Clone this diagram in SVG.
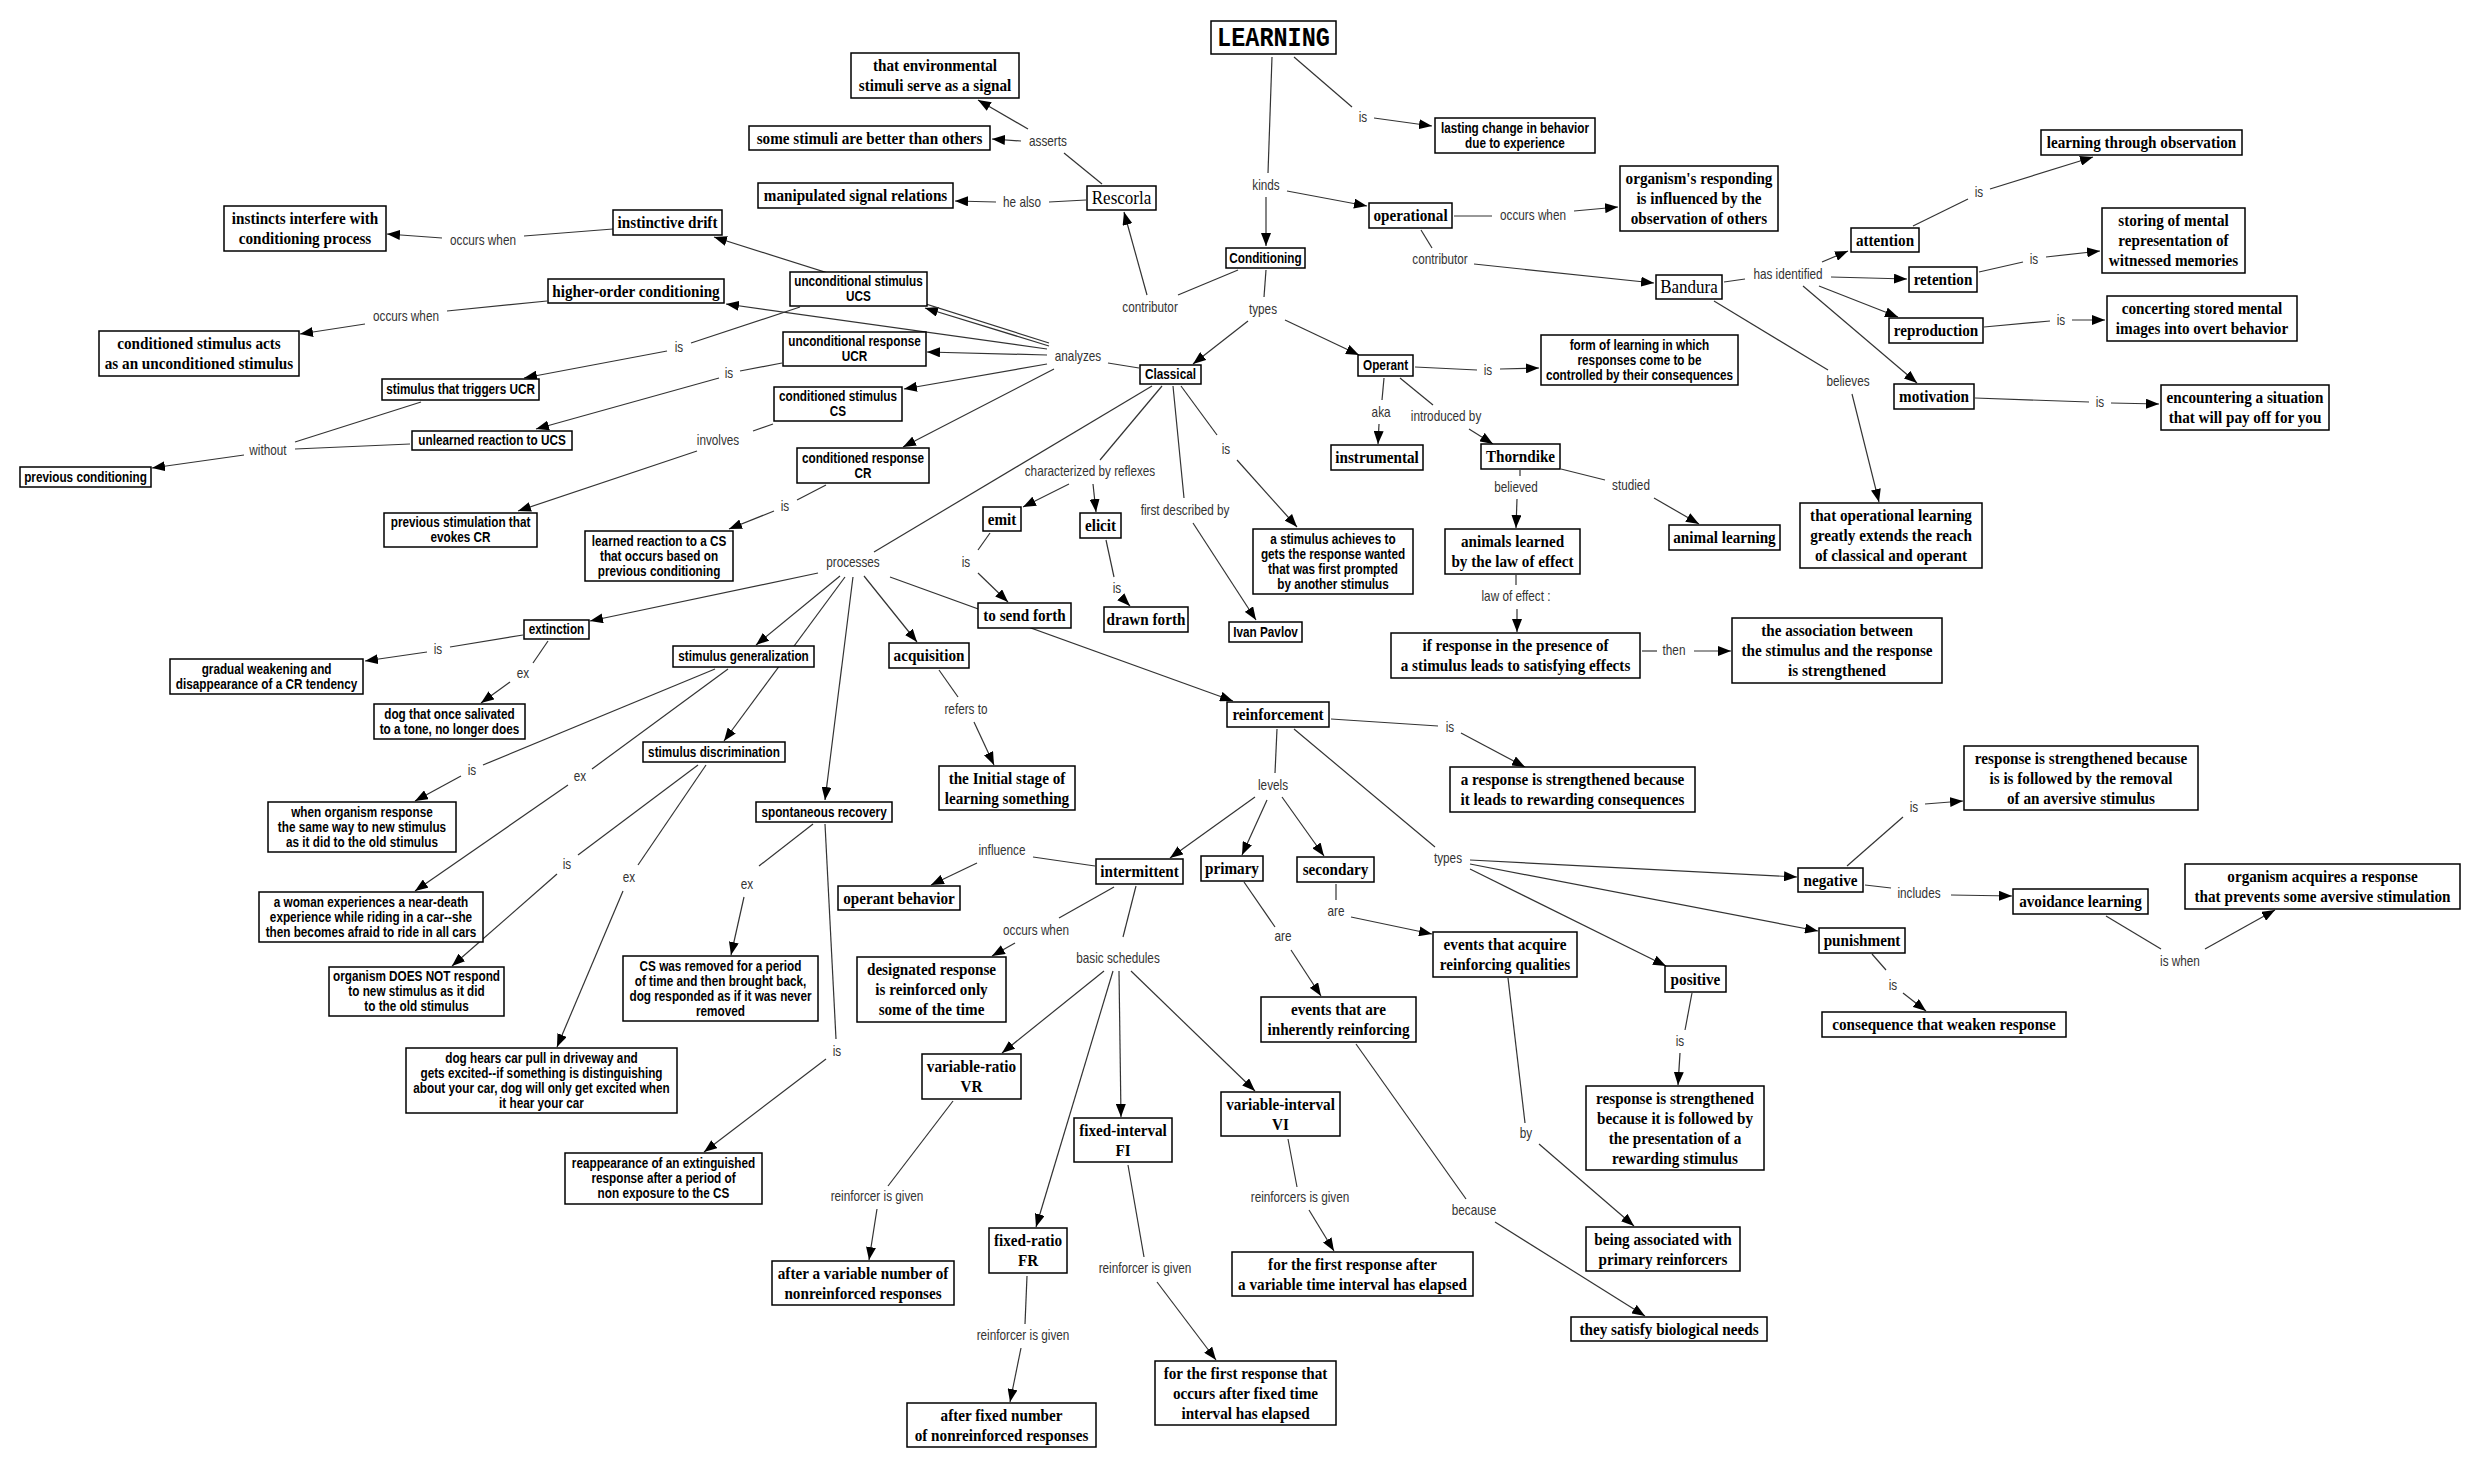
<svg xmlns="http://www.w3.org/2000/svg" width="2479" height="1467" viewBox="0 0 2479 1467">
<style>
.bg{fill:#fff}
.n rect{fill:#fff;stroke:#000;stroke-width:1.5}
.n text{text-anchor:middle;fill:#000;transform-box:fill-box;transform-origin:center}
.s{font-family:"Liberation Sans",Arial,sans-serif;font-weight:bold;font-size:14px;transform:scaleX(0.84)}
.f{font-family:"Liberation Serif","Times New Roman",serif;font-weight:bold;font-size:16.5px;transform:scaleX(0.92)}
.fr{font-family:"Liberation Serif","Times New Roman",serif;font-weight:normal;font-size:18.5px;transform:scaleX(0.92)}
.m{font-family:"Liberation Mono","Courier New",monospace;font-weight:bold;font-size:27px;transform:scaleX(0.87)}
.c line{stroke:#333;stroke-width:1.2;fill:none}
.c line.a{marker-end:url(#ah)}
.c text{font-family:"Liberation Sans",Arial,sans-serif;font-size:14px;fill:#333;text-anchor:middle;transform-box:fill-box;transform-origin:center;transform:scaleX(0.84)}
</style>
<defs>
<marker id="ah" markerUnits="userSpaceOnUse" markerWidth="13" markerHeight="10" refX="13" refY="5" orient="auto"><path d="M0,0 L13,5 L0,10 Z" fill="#000"/></marker>
</defs>
<rect class="bg" x="0" y="0" width="2479" height="1467"/>
<g id="connectors" class="c">
<line x1="1294" y1="57" x2="1352" y2="107"/><text x="1363" y="122">is</text><line class="a" x1="1374" y1="118" x2="1432" y2="126"/>
<line x1="1272" y1="57" x2="1268" y2="173"/><text x="1266" y="190">kinds</text><line class="a" x1="1266" y1="197" x2="1266" y2="246"/><line class="a" x1="1287" y1="191" x2="1367" y2="206"/>
<line x1="1454" y1="216" x2="1492" y2="216"/><text x="1533" y="220">occurs when</text><line class="a" x1="1574" y1="211" x2="1618" y2="207"/>
<line x1="1421" y1="230" x2="1432" y2="248"/><text x="1440" y="264">contributor</text><line class="a" x1="1474" y1="264" x2="1654" y2="283"/>
<line x1="1724" y1="282" x2="1745" y2="279"/><text x="1788" y="279">has identified</text><line class="a" x1="1822" y1="262" x2="1848" y2="251"/><line class="a" x1="1831" y1="277" x2="1907" y2="279"/><line class="a" x1="1819" y1="286" x2="1898" y2="317"/><line class="a" x1="1803" y1="286" x2="1917" y2="383"/>
<line x1="1714" y1="301" x2="1828" y2="370"/><text x="1848" y="386">believes</text><line class="a" x1="1852" y1="394" x2="1879" y2="502"/>
<line x1="1913" y1="226" x2="1968" y2="199"/><text x="1979" y="197">is</text><line class="a" x1="1990" y1="189" x2="2093" y2="157"/>
<line x1="1979" y1="272" x2="2023" y2="262"/><text x="2034" y="264">is</text><line class="a" x1="2046" y1="257" x2="2100" y2="251"/>
<line x1="1984" y1="327" x2="2050" y2="321"/><text x="2061" y="325">is</text><line class="a" x1="2072" y1="320" x2="2105" y2="320"/>
<line x1="1975" y1="398" x2="2089" y2="402"/><text x="2100" y="407">is</text><line class="a" x1="2111" y1="403" x2="2159" y2="404"/>
<line x1="1266" y1="270" x2="1264" y2="297"/><text x="1263" y="314">types</text><line class="a" x1="1248" y1="321" x2="1193" y2="364"/><line class="a" x1="1285" y1="320" x2="1359" y2="355"/>
<line x1="1238" y1="270" x2="1178" y2="295"/><text x="1150" y="312">contributor</text><line class="a" x1="1147" y1="295" x2="1124" y2="212"/>
<line x1="1102" y1="184" x2="1064" y2="153"/><text x="1048" y="146">asserts</text><line class="a" x1="1021" y1="141" x2="992" y2="139"/><line class="a" x1="1028" y1="129" x2="978" y2="100"/>
<line x1="1086" y1="200" x2="1049" y2="202"/><text x="1022" y="207">he also</text><line class="a" x1="996" y1="202" x2="955" y2="201"/>
<line x1="1415" y1="367" x2="1477" y2="370"/><text x="1488" y="375">is</text><line class="a" x1="1500" y1="369" x2="1539" y2="368"/>
<line x1="1384" y1="378" x2="1382" y2="400"/><text x="1381" y="417">aka</text><line class="a" x1="1379" y1="424" x2="1378" y2="444"/>
<line x1="1400" y1="378" x2="1433" y2="405"/><text x="1446" y="421">introduced by</text><line class="a" x1="1469" y1="429" x2="1493" y2="444"/>
<line x1="1561" y1="469" x2="1605" y2="480"/><text x="1631" y="490">studied</text><line class="a" x1="1654" y1="498" x2="1699" y2="524"/>
<line x1="1520" y1="470" x2="1520" y2="476"/><text x="1516" y="492">believed</text><line class="a" x1="1517" y1="499" x2="1516" y2="528"/>
<line x1="1516" y1="575" x2="1516" y2="585"/><text x="1516" y="601">law of effect :</text><line class="a" x1="1517" y1="609" x2="1517" y2="632"/>
<line x1="1642" y1="651" x2="1657" y2="651"/><text x="1674" y="655">then</text><line class="a" x1="1694" y1="651" x2="1731" y2="651"/>
<line x1="1139" y1="368" x2="1108" y2="363"/><text x="1078" y="361">analyzes</text>
<line class="a" x1="1049" y1="346" x2="925" y2="308"/><line class="a" x1="1049" y1="343" x2="714" y2="237"/><line class="a" x1="1047" y1="349" x2="726" y2="304"/><line class="a" x1="1047" y1="355" x2="927" y2="352"/><line class="a" x1="1047" y1="364" x2="904" y2="389"/><line class="a" x1="1054" y1="369" x2="903" y2="447"/>
<line x1="800" y1="307" x2="691" y2="343"/><text x="679" y="352">is</text><line class="a" x1="667" y1="351" x2="524" y2="378"/>
<line x1="782" y1="363" x2="740" y2="371"/><text x="729" y="378">is</text><line class="a" x1="719" y1="378" x2="536" y2="429"/>
<line x1="773" y1="424" x2="753" y2="431"/><text x="718" y="445">involves</text><line class="a" x1="697" y1="451" x2="518" y2="511"/>
<line x1="826" y1="485" x2="797" y2="500"/><text x="785" y="511">is</text><line class="a" x1="774" y1="511" x2="729" y2="529"/>
<line x1="1162" y1="386" x2="1100" y2="460"/><text x="1090" y="476">characterized by reflexes</text><line class="a" x1="1069" y1="484" x2="1023" y2="507"/><line class="a" x1="1093" y1="484" x2="1096" y2="512"/>
<line x1="1173" y1="386" x2="1184" y2="498"/><text x="1185" y="515">first described by</text><line class="a" x1="1193" y1="523" x2="1256" y2="620"/>
<line x1="1181" y1="386" x2="1217" y2="435"/><text x="1226" y="454">is</text><line class="a" x1="1237" y1="460" x2="1297" y2="527"/>
<line x1="1152" y1="386" x2="874" y2="552"/><text x="853" y="567">processes</text>
<line class="a" x1="818" y1="573" x2="590" y2="621"/><line class="a" x1="840" y1="576" x2="756" y2="645"/><line class="a" x1="845" y1="577" x2="724" y2="741"/><line class="a" x1="853" y1="577" x2="825" y2="800"/><line class="a" x1="864" y1="576" x2="917" y2="642"/><line class="a" x1="890" y1="577" x2="1233" y2="701"/>
<line x1="523" y1="635" x2="450" y2="647"/><text x="438" y="654">is</text><line class="a" x1="427" y1="652" x2="365" y2="661"/>
<line x1="548" y1="641" x2="533" y2="663"/><text x="523" y="678">ex</text><line class="a" x1="510" y1="682" x2="481" y2="703"/>
<line x1="715" y1="669" x2="483" y2="765"/><text x="472" y="775">is</text><line class="a" x1="461" y1="776" x2="415" y2="801"/>
<line x1="728" y1="669" x2="592" y2="769"/><text x="580" y="781">ex</text><line class="a" x1="568" y1="785" x2="415" y2="891"/>
<line x1="698" y1="765" x2="578" y2="855"/><text x="567" y="869">is</text><line class="a" x1="557" y1="874" x2="452" y2="966"/>
<line x1="706" y1="765" x2="638" y2="865"/><text x="629" y="882">ex</text><line class="a" x1="623" y1="891" x2="557" y2="1047"/>
<line x1="813" y1="824" x2="759" y2="866"/><text x="747" y="889">ex</text><line class="a" x1="744" y1="897" x2="731" y2="955"/>
<line x1="825" y1="824" x2="836" y2="1039"/><text x="837" y="1056">is</text><line class="a" x1="826" y1="1059" x2="704" y2="1152"/>
<line x1="939" y1="670" x2="958" y2="697"/><text x="966" y="714">refers to</text><line class="a" x1="974" y1="722" x2="994" y2="765"/>
<line x1="990" y1="533" x2="978" y2="550"/><text x="966" y="567">is</text><line class="a" x1="978" y1="573" x2="1008" y2="602"/>
<line x1="1106" y1="540" x2="1114" y2="577"/><text x="1117" y="593">is</text><line class="a" x1="1121" y1="597" x2="1130" y2="606"/>
<line x1="1331" y1="719" x2="1438" y2="726"/><text x="1450" y="732">is</text><line class="a" x1="1461" y1="733" x2="1525" y2="767"/>
<line x1="1277" y1="729" x2="1275" y2="773"/><text x="1273" y="790">levels</text><line class="a" x1="1255" y1="797" x2="1170" y2="858"/><line class="a" x1="1267" y1="800" x2="1242" y2="855"/><line class="a" x1="1282" y1="797" x2="1324" y2="856"/>
<line x1="1294" y1="729" x2="1435" y2="847"/><text x="1448" y="863">types</text><line class="a" x1="1470" y1="860" x2="1797" y2="877"/><line class="a" x1="1470" y1="864" x2="1818" y2="931"/><line class="a" x1="1470" y1="869" x2="1666" y2="966"/>
<line x1="1847" y1="866" x2="1903" y2="817"/><text x="1914" y="812">is</text><line class="a" x1="1925" y1="804" x2="1963" y2="801"/>
<line x1="1865" y1="885" x2="1891" y2="888"/><text x="1919" y="898">includes</text><line class="a" x1="1951" y1="895" x2="2012" y2="896"/>
<line x1="2106" y1="916" x2="2161" y2="949"/><text x="2180" y="966">is when</text><line class="a" x1="2205" y1="949" x2="2275" y2="910"/>
<line x1="1872" y1="954" x2="1886" y2="970"/><text x="1893" y="990">is</text><line class="a" x1="1903" y1="993" x2="1926" y2="1011"/>
<line x1="1692" y1="993" x2="1685" y2="1030"/><text x="1680" y="1046">is</text><line class="a" x1="1680" y1="1053" x2="1678" y2="1085"/>
<line x1="1336" y1="884" x2="1336" y2="900"/><text x="1336" y="916">are</text><line class="a" x1="1351" y1="917" x2="1432" y2="934"/>
<line x1="1244" y1="882" x2="1275" y2="927"/><text x="1283" y="941">are</text><line class="a" x1="1291" y1="950" x2="1321" y2="996"/>
<line x1="1508" y1="978" x2="1525" y2="1123"/><text x="1526" y="1138">by</text><line class="a" x1="1539" y1="1144" x2="1634" y2="1226"/>
<line x1="1356" y1="1044" x2="1466" y2="1199"/><text x="1474" y="1215">because</text><line class="a" x1="1495" y1="1222" x2="1645" y2="1316"/>
<line x1="1095" y1="866" x2="1033" y2="857"/><text x="1002" y="855">influence</text><line class="a" x1="977" y1="863" x2="931" y2="885"/>
<line x1="1114" y1="887" x2="1059" y2="918"/><text x="1036" y="935">occurs when</text><line class="a" x1="1015" y1="943" x2="992" y2="956"/>
<line x1="1136" y1="886" x2="1123" y2="937"/><text x="1118" y="963">basic schedules</text><line class="a" x1="1104" y1="971" x2="1002" y2="1053"/><line class="a" x1="1113" y1="971" x2="1036" y2="1227"/><line class="a" x1="1119" y1="971" x2="1121" y2="1117"/><line class="a" x1="1131" y1="971" x2="1255" y2="1091"/>
<line x1="953" y1="1101" x2="888" y2="1186"/><text x="877" y="1201">reinforcer is given</text><line class="a" x1="877" y1="1209" x2="869" y2="1260"/>
<line x1="1027" y1="1276" x2="1025" y2="1324"/><text x="1023" y="1340">reinforcer is given</text><line class="a" x1="1021" y1="1348" x2="1010" y2="1402"/>
<line x1="1128" y1="1165" x2="1144" y2="1257"/><text x="1145" y="1273">reinforcer is given</text><line class="a" x1="1157" y1="1282" x2="1216" y2="1360"/>
<line x1="1288" y1="1139" x2="1297" y2="1187"/><text x="1300" y="1202">reinforcers is given</text><line class="a" x1="1309" y1="1210" x2="1334" y2="1251"/>
<line x1="547" y1="301" x2="447" y2="311"/><text x="406" y="321">occurs when</text><line class="a" x1="365" y1="324" x2="300" y2="334"/>
<line x1="613" y1="229" x2="524" y2="236"/><text x="483" y="245">occurs when</text><line class="a" x1="442" y1="238" x2="387" y2="234"/>
<line x1="421" y1="402" x2="295" y2="442"/><line x1="410" y1="444" x2="295" y2="449"/><text x="268" y="455">without</text><line class="a" x1="244" y1="455" x2="152" y2="468"/>
</g>
<g id="n-learning" class="n"><rect x="1211" y="21" width="125" height="33"/><text class="m" x="1273.5" y="46">LEARNING</text></g>
<g id="n-lasting" class="n"><rect x="1435" y="118" width="160" height="35"/><text class="s"><tspan x="1515" y="133">lasting change in behavior</tspan><tspan x="1515" y="148">due to experience</tspan></text></g>
<g id="n-conditioning" class="n"><rect x="1226" y="248" width="79" height="20"/><text class="s" x="1265.5" y="263">Conditioning</text></g>
<g id="n-operational" class="n"><rect x="1369" y="203" width="83" height="25"/><text class="f" x="1410.5" y="221.5">operational</text></g>
<g id="n-organism-responding" class="n"><rect x="1620" y="166" width="158" height="65"/><text class="f"><tspan x="1699" y="184.5">organism's responding</tspan><tspan x="1699" y="204.5">is influenced by the</tspan><tspan x="1699" y="224.5">observation of others</tspan></text></g>
<g id="n-bandura" class="n"><rect x="1656" y="275" width="66" height="24"/><text class="fr" x="1689" y="293.5">Bandura</text></g>
<g id="n-attention" class="n"><rect x="1851" y="228" width="68" height="24"/><text class="f" x="1885" y="246">attention</text></g>
<g id="n-learning-observation" class="n"><rect x="2041" y="130" width="201" height="25"/><text class="f" x="2141.5" y="148.5">learning through observation</text></g>
<g id="n-retention" class="n"><rect x="1909" y="267" width="68" height="25"/><text class="f" x="1943" y="285.5">retention</text></g>
<g id="n-storing" class="n"><rect x="2102" y="208" width="143" height="65"/><text class="f"><tspan x="2173.5" y="226.5">storing of mental</tspan><tspan x="2173.5" y="246.5">representation of</tspan><tspan x="2173.5" y="266.5">witnessed memories</tspan></text></g>
<g id="n-reproduction" class="n"><rect x="1889" y="318" width="94" height="25"/><text class="f" x="1936" y="336.5">reproduction</text></g>
<g id="n-concerting" class="n"><rect x="2107" y="296" width="190" height="45"/><text class="f"><tspan x="2202" y="314.5">concerting stored mental</tspan><tspan x="2202" y="334.5">images into overt behavior</tspan></text></g>
<g id="n-motivation" class="n"><rect x="1894" y="384" width="80" height="25"/><text class="f" x="1934" y="402.5">motivation</text></g>
<g id="n-encountering" class="n"><rect x="2161" y="385" width="168" height="45"/><text class="f"><tspan x="2245" y="403.5">encountering a situation</tspan><tspan x="2245" y="423.5">that will pay off for you</tspan></text></g>
<g id="n-operational-learning" class="n"><rect x="1800" y="503" width="182" height="65"/><text class="f"><tspan x="1891" y="521.5">that operational learning</tspan><tspan x="1891" y="541.5">greatly extends the reach</tspan><tspan x="1891" y="561.5">of classical and operant</tspan></text></g>
<g id="n-rescorla" class="n"><rect x="1087" y="186" width="69" height="24"/><text class="fr" x="1121.5" y="204.5">Rescorla</text></g>
<g id="n-environmental" class="n"><rect x="851" y="53" width="168" height="45"/><text class="f"><tspan x="935" y="71.5">that environmental</tspan><tspan x="935" y="91.5">stimuli serve as a signal</tspan></text></g>
<g id="n-some-stimuli" class="n"><rect x="749" y="126" width="241" height="24"/><text class="f" x="869.5" y="144">some stimuli are better than others</text></g>
<g id="n-manipulated" class="n"><rect x="758" y="183" width="195" height="25"/><text class="f" x="855.5" y="201.5">manipulated signal relations</text></g>
<g id="n-instinctive-drift" class="n"><rect x="613" y="210" width="109" height="25"/><text class="f" x="667.5" y="228.5">instinctive drift</text></g>
<g id="n-instincts" class="n"><rect x="224" y="206" width="162" height="45"/><text class="f"><tspan x="305" y="224.5">instincts interfere with</tspan><tspan x="305" y="244.5">conditioning process</tspan></text></g>
<g id="n-higher-order" class="n"><rect x="548" y="279" width="176" height="24"/><text class="f" x="636" y="297">higher-order conditioning</text></g>
<g id="n-cs-acts" class="n"><rect x="99" y="331" width="200" height="45"/><text class="f"><tspan x="199" y="349.5">conditioned stimulus acts</tspan><tspan x="199" y="369.5">as an unconditioned stimulus</tspan></text></g>
<g id="n-ucs" class="n"><rect x="790" y="272" width="137" height="34"/><text class="s"><tspan x="858.5" y="286.5">unconditional stimulus</tspan><tspan x="858.5" y="301.5">UCS</tspan></text></g>
<g id="n-ucr" class="n"><rect x="783" y="332" width="143" height="34"/><text class="s"><tspan x="854.5" y="346.5">unconditional response</tspan><tspan x="854.5" y="361.5">UCR</tspan></text></g>
<g id="n-cs" class="n"><rect x="774" y="387" width="128" height="34"/><text class="s"><tspan x="838" y="401.5">conditioned stimulus</tspan><tspan x="838" y="416.5">CS</tspan></text></g>
<g id="n-cr" class="n"><rect x="797" y="448" width="132" height="35"/><text class="s"><tspan x="863" y="463">conditioned response</tspan><tspan x="863" y="478">CR</tspan></text></g>
<g id="n-triggers-ucr" class="n"><rect x="382" y="379" width="157" height="21"/><text class="s" x="460.5" y="394.5">stimulus that triggers UCR</text></g>
<g id="n-unlearned" class="n"><rect x="412" y="431" width="160" height="19"/><text class="s" x="492" y="445.5">unlearned reaction to UCS</text></g>
<g id="n-previous-conditioning" class="n"><rect x="20" y="467" width="131" height="20"/><text class="s" x="85.5" y="482">previous conditioning</text></g>
<g id="n-previous-stimulation" class="n"><rect x="384" y="513" width="153" height="34"/><text class="s"><tspan x="460.5" y="527.5">previous stimulation that</tspan><tspan x="460.5" y="542.5">evokes CR</tspan></text></g>
<g id="n-learned-reaction" class="n"><rect x="585" y="531" width="148" height="50"/><text class="s"><tspan x="659" y="546">learned reaction to a CS</tspan><tspan x="659" y="561">that occurs based on</tspan><tspan x="659" y="576">previous conditioning</tspan></text></g>
<g id="n-classical" class="n"><rect x="1140" y="365" width="61" height="19"/><text class="s" x="1170.5" y="379.5">Classical</text></g>
<g id="n-operant" class="n"><rect x="1358" y="355" width="55" height="21"/><text class="s" x="1385.5" y="370.5">Operant</text></g>
<g id="n-form-learning" class="n"><rect x="1541" y="335" width="197" height="50"/><text class="s"><tspan x="1639.5" y="350">form of learning in which</tspan><tspan x="1639.5" y="365">responses come to be</tspan><tspan x="1639.5" y="380">controlled by their consequences</tspan></text></g>
<g id="n-instrumental" class="n"><rect x="1331" y="445" width="92" height="25"/><text class="f" x="1377" y="463.5">instrumental</text></g>
<g id="n-thorndike" class="n"><rect x="1481" y="444" width="79" height="25"/><text class="f" x="1520.5" y="462.5">Thorndike</text></g>
<g id="n-animal-learning" class="n"><rect x="1669" y="525" width="111" height="25"/><text class="f" x="1724.5" y="543.5">animal learning</text></g>
<g id="n-animals-learned" class="n"><rect x="1445" y="529" width="135" height="45"/><text class="f"><tspan x="1512.5" y="547.5">animals learned</tspan><tspan x="1512.5" y="567.5">by the law of effect</tspan></text></g>
<g id="n-if-response" class="n"><rect x="1391" y="633" width="249" height="45"/><text class="f"><tspan x="1515.5" y="651.5">if response in the presence of</tspan><tspan x="1515.5" y="671.5">a stimulus leads to satisfying effects</tspan></text></g>
<g id="n-association" class="n"><rect x="1732" y="618" width="210" height="65"/><text class="f"><tspan x="1837" y="636.5">the association between</tspan><tspan x="1837" y="656.5">the stimulus and the response</tspan><tspan x="1837" y="676.5">is strengthened</tspan></text></g>
<g id="n-stimulus-achieves" class="n"><rect x="1253" y="529" width="160" height="65"/><text class="s"><tspan x="1333" y="544">a stimulus achieves to</tspan><tspan x="1333" y="559">gets the response wanted</tspan><tspan x="1333" y="574">that was first prompted</tspan><tspan x="1333" y="589">by another stimulus</tspan></text></g>
<g id="n-pavlov" class="n"><rect x="1229" y="622" width="73" height="20"/><text class="s" x="1265.5" y="637">Ivan Pavlov</text></g>
<g id="n-emit" class="n"><rect x="983" y="507" width="38" height="24"/><text class="f" x="1002" y="525">emit</text></g>
<g id="n-elicit" class="n"><rect x="1080" y="513" width="41" height="25"/><text class="f" x="1100.5" y="531.5">elicit</text></g>
<g id="n-send-forth" class="n"><rect x="978" y="603" width="93" height="25"/><text class="f" x="1024.5" y="621.5">to send forth</text></g>
<g id="n-drawn-forth" class="n"><rect x="1104" y="607" width="84" height="25"/><text class="f" x="1146" y="625.5">drawn forth</text></g>
<g id="n-extinction" class="n"><rect x="524" y="620" width="65" height="19"/><text class="s" x="556.5" y="634.5">extinction</text></g>
<g id="n-gradual" class="n"><rect x="170" y="659" width="193" height="35"/><text class="s"><tspan x="266.5" y="674">gradual weakening and</tspan><tspan x="266.5" y="689">disappearance of a CR tendency</tspan></text></g>
<g id="n-dog-salivated" class="n"><rect x="374" y="704" width="151" height="35"/><text class="s"><tspan x="449.5" y="719">dog that once salivated</tspan><tspan x="449.5" y="734">to a tone, no longer does</tspan></text></g>
<g id="n-stim-gen" class="n"><rect x="673" y="646" width="141" height="21"/><text class="s" x="743.5" y="661.5">stimulus generalization</text></g>
<g id="n-when-organism" class="n"><rect x="268" y="802" width="188" height="50"/><text class="s"><tspan x="362" y="817">when organism response</tspan><tspan x="362" y="832">the same way to new stimulus</tspan><tspan x="362" y="847">as it did to the old stimulus</tspan></text></g>
<g id="n-woman" class="n"><rect x="259" y="892" width="224" height="50"/><text class="s"><tspan x="371" y="907">a woman experiences a near-death</tspan><tspan x="371" y="922">experience while riding in a car--she</tspan><tspan x="371" y="937">then becomes afraid to ride in all cars</tspan></text></g>
<g id="n-stim-disc" class="n"><rect x="643" y="742" width="142" height="20"/><text class="s" x="714" y="757">stimulus discrimination</text></g>
<g id="n-does-not" class="n"><rect x="329" y="967" width="175" height="49"/><text class="s"><tspan x="416.5" y="981.5">organism DOES NOT respond</tspan><tspan x="416.5" y="996.5">to new stimulus as it did</tspan><tspan x="416.5" y="1011.5">to the old stimulus</tspan></text></g>
<g id="n-dog-hears" class="n"><rect x="406" y="1048" width="271" height="65"/><text class="s"><tspan x="541.5" y="1063">dog hears car pull in driveway and</tspan><tspan x="541.5" y="1078">gets excited--if something is distinguishing</tspan><tspan x="541.5" y="1093">about your car, dog will only get excited when</tspan><tspan x="541.5" y="1108">it hear your car</tspan></text></g>
<g id="n-spont" class="n"><rect x="756" y="802" width="136" height="20"/><text class="s" x="824" y="817">spontaneous recovery</text></g>
<g id="n-cs-removed" class="n"><rect x="623" y="956" width="195" height="65"/><text class="s"><tspan x="720.5" y="971">CS was removed for a period</tspan><tspan x="720.5" y="986">of time and then brought back,</tspan><tspan x="720.5" y="1001">dog responded as if it was never</tspan><tspan x="720.5" y="1016">removed</tspan></text></g>
<g id="n-reappearance" class="n"><rect x="565" y="1153" width="197" height="51"/><text class="s"><tspan x="663.5" y="1168.5">reappearance of an extinguished</tspan><tspan x="663.5" y="1183.5">response after a period of</tspan><tspan x="663.5" y="1198.5">non exposure to the CS</tspan></text></g>
<g id="n-acquisition" class="n"><rect x="889" y="643" width="80" height="25"/><text class="f" x="929" y="661.5">acquisition</text></g>
<g id="n-initial" class="n"><rect x="939" y="766" width="136" height="44"/><text class="f"><tspan x="1007" y="784">the Initial stage of</tspan><tspan x="1007" y="804">learning something</tspan></text></g>
<g id="n-reinforcement" class="n"><rect x="1227" y="702" width="102" height="25"/><text class="f" x="1278" y="720.5">reinforcement</text></g>
<g id="n-rewarding" class="n"><rect x="1450" y="767" width="245" height="45"/><text class="f"><tspan x="1572.5" y="785.5">a response is strengthened because</tspan><tspan x="1572.5" y="805.5">it leads to rewarding consequences</tspan></text></g>
<g id="n-intermittent" class="n"><rect x="1096" y="859" width="87" height="25"/><text class="f" x="1139.5" y="877.5">intermittent</text></g>
<g id="n-primary" class="n"><rect x="1201" y="856" width="62" height="25"/><text class="f" x="1232" y="874.5">primary</text></g>
<g id="n-secondary" class="n"><rect x="1297" y="857" width="77" height="25"/><text class="f" x="1335.5" y="875.5">secondary</text></g>
<g id="n-operant-behavior" class="n"><rect x="838" y="886" width="122" height="24"/><text class="f" x="899" y="904">operant behavior</text></g>
<g id="n-designated" class="n"><rect x="857" y="957" width="149" height="65"/><text class="f"><tspan x="931.5" y="975.5">designated response</tspan><tspan x="931.5" y="995.5">is reinforced only</tspan><tspan x="931.5" y="1015.5">some of the time</tspan></text></g>
<g id="n-events-acquire" class="n"><rect x="1433" y="932" width="144" height="45"/><text class="f"><tspan x="1505" y="950.5">events that acquire</tspan><tspan x="1505" y="970.5">reinforcing qualities</tspan></text></g>
<g id="n-inherently" class="n"><rect x="1261" y="997" width="155" height="45"/><text class="f"><tspan x="1338.5" y="1015.5">events that are</tspan><tspan x="1338.5" y="1035.5">inherently reinforcing</tspan></text></g>
<g id="n-being-associated" class="n"><rect x="1586" y="1227" width="154" height="44"/><text class="f"><tspan x="1663" y="1245">being associated with</tspan><tspan x="1663" y="1265">primary reinforcers</tspan></text></g>
<g id="n-biological" class="n"><rect x="1571" y="1317" width="196" height="24"/><text class="f" x="1669" y="1335">they satisfy biological needs</text></g>
<g id="n-vr" class="n"><rect x="922" y="1054" width="99" height="45"/><text class="f"><tspan x="971.5" y="1072.5">variable-ratio</tspan><tspan x="971.5" y="1092.5">VR</tspan></text></g>
<g id="n-fi" class="n"><rect x="1074" y="1118" width="98" height="44"/><text class="f"><tspan x="1123" y="1136">fixed-interval</tspan><tspan x="1123" y="1156">FI</tspan></text></g>
<g id="n-fr" class="n"><rect x="989" y="1228" width="78" height="45"/><text class="f"><tspan x="1028" y="1246.5">fixed-ratio</tspan><tspan x="1028" y="1266.5">FR</tspan></text></g>
<g id="n-vi" class="n"><rect x="1221" y="1092" width="119" height="44"/><text class="f"><tspan x="1280.5" y="1110">variable-interval</tspan><tspan x="1280.5" y="1130">VI</tspan></text></g>
<g id="n-after-variable" class="n"><rect x="772" y="1261" width="182" height="44"/><text class="f"><tspan x="863" y="1279">after a variable number of</tspan><tspan x="863" y="1299">nonreinforced responses</tspan></text></g>
<g id="n-after-fixed" class="n"><rect x="907" y="1403" width="189" height="44"/><text class="f"><tspan x="1001.5" y="1421">after fixed number</tspan><tspan x="1001.5" y="1441">of nonreinforced responses</tspan></text></g>
<g id="n-first-fixed" class="n"><rect x="1155" y="1361" width="181" height="64"/><text class="f"><tspan x="1245.5" y="1379">for the first response that</tspan><tspan x="1245.5" y="1399">occurs after fixed time</tspan><tspan x="1245.5" y="1419">interval has elapsed</tspan></text></g>
<g id="n-first-variable" class="n"><rect x="1232" y="1252" width="241" height="44"/><text class="f"><tspan x="1352.5" y="1270">for the first response after</tspan><tspan x="1352.5" y="1290">a variable time interval has elapsed</tspan></text></g>
<g id="n-negative" class="n"><rect x="1798" y="868" width="65" height="24"/><text class="f" x="1830.5" y="886">negative</text></g>
<g id="n-removal" class="n"><rect x="1964" y="746" width="234" height="64"/><text class="f"><tspan x="2081" y="764">response is strengthened because</tspan><tspan x="2081" y="784">is is followed by the removal</tspan><tspan x="2081" y="804">of an aversive stimulus</tspan></text></g>
<g id="n-avoidance" class="n"><rect x="2013" y="889" width="135" height="25"/><text class="f" x="2080.5" y="907.5">avoidance learning</text></g>
<g id="n-acquires" class="n"><rect x="2185" y="864" width="275" height="45"/><text class="f"><tspan x="2322.5" y="882.5">organism acquires a response</tspan><tspan x="2322.5" y="902.5">that prevents some aversive stimulation</tspan></text></g>
<g id="n-punishment" class="n"><rect x="1819" y="928" width="86" height="25"/><text class="f" x="1862" y="946.5">punishment</text></g>
<g id="n-consequence" class="n"><rect x="1822" y="1012" width="244" height="25"/><text class="f" x="1944" y="1030.5">consequence that weaken response</text></g>
<g id="n-positive" class="n"><rect x="1665" y="966" width="61" height="26"/><text class="f" x="1695.5" y="985">positive</text></g>
<g id="n-presentation" class="n"><rect x="1586" y="1086" width="178" height="84"/><text class="f"><tspan x="1675" y="1104">response is strengthened</tspan><tspan x="1675" y="1124">because it is followed by</tspan><tspan x="1675" y="1144">the presentation of a</tspan><tspan x="1675" y="1164">rewarding stimulus</tspan></text></g>
</svg>
